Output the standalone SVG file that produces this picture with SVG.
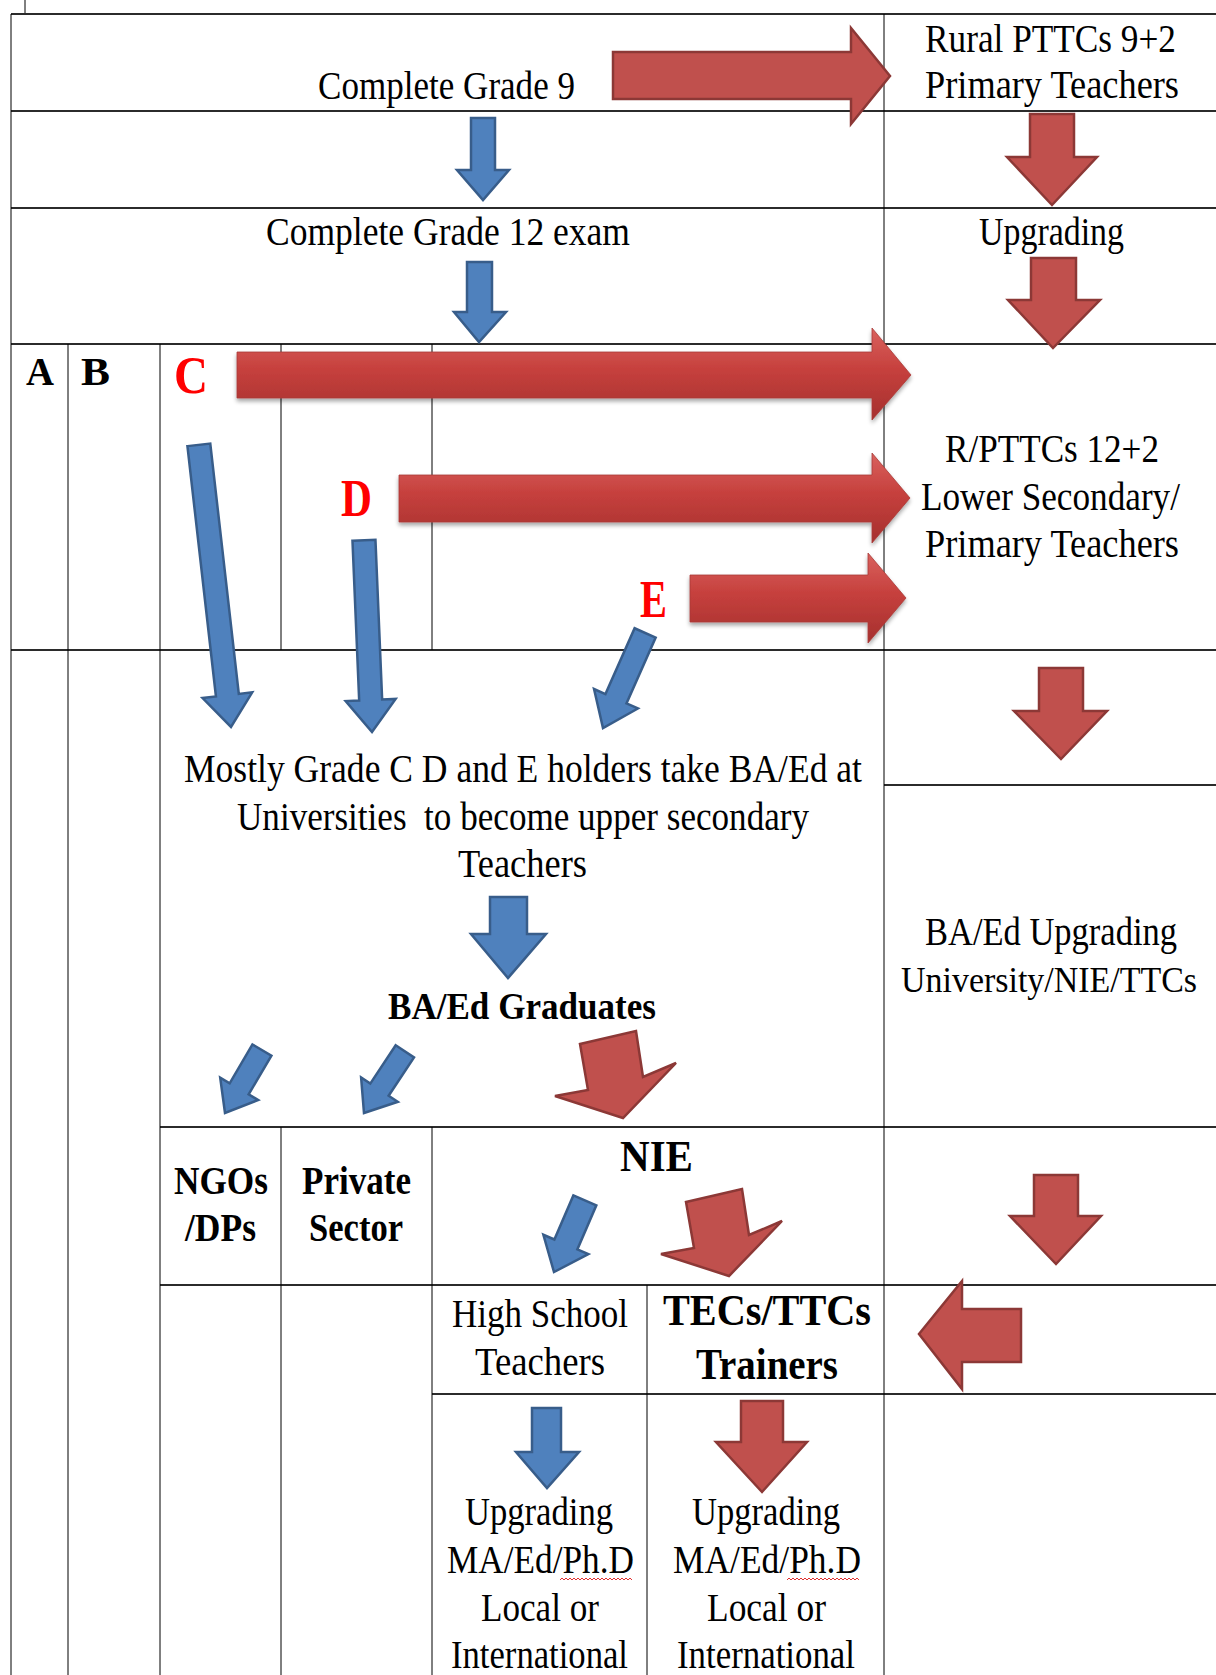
<svg xmlns="http://www.w3.org/2000/svg" width="1216" height="1675" viewBox="0 0 1216 1675">
<defs>
<style>
.h{stroke:#2b2b2b;stroke-width:2;fill:none}
.v{stroke:#000;stroke-width:1;fill:none}
text{font-family:"Liberation Serif","Times New Roman",serif;font-size:39px;fill:#000}
.b{font-weight:bold}
.ltr{font-weight:bold;fill:#ff0000;font-size:53px}
.blue{fill:#4f81bd;stroke:#385d8a;stroke-width:2.5;stroke-linejoin:miter}
.red{fill:#c0504d;stroke:#8c3836;stroke-width:2.5;stroke-linejoin:miter}
.big{fill:url(#rg);stroke:#a83a37;stroke-width:0.8}
.sq{fill:none;stroke:#e03030;stroke-width:1}
</style>
<linearGradient id="rg" x1="0" y1="0" x2="0" y2="1">
<stop offset="0" stop-color="#d9625e"/>
<stop offset="0.45" stop-color="#c6403d"/>
<stop offset="1" stop-color="#a5302e"/>
</linearGradient>
<filter id="sh" x="-5%" y="-20%" width="110%" height="150%">
<feGaussianBlur in="SourceAlpha" stdDeviation="2"/>
<feOffset dx="0" dy="3" result="o"/>
<feComponentTransfer><feFuncA type="linear" slope="0.35"/></feComponentTransfer>
<feMerge><feMergeNode/><feMergeNode in="SourceGraphic"/></feMerge>
</filter>
</defs>
<rect width="1216" height="1675" fill="#fff"/>
<g id="grid">
<line class="v" x1="25" y1="0" x2="25" y2="14"/>
<line class="h" x1="11" y1="14" x2="1216" y2="14"/>
<line class="h" x1="11" y1="111" x2="1216" y2="111"/>
<line class="h" x1="11" y1="208" x2="1216" y2="208"/>
<line class="h" x1="11" y1="344" x2="1216" y2="344"/>
<line class="h" x1="11" y1="650" x2="1216" y2="650"/>
<line class="h" x1="884" y1="785" x2="1216" y2="785"/>
<line class="h" x1="160" y1="1127" x2="1216" y2="1127"/>
<line class="h" x1="160" y1="1285" x2="1216" y2="1285"/>
<line class="h" x1="432" y1="1394" x2="1216" y2="1394"/>
<line class="v" x1="11" y1="14" x2="11" y2="1675"/>
<line class="v" x1="884" y1="14" x2="884" y2="1675"/>
<line class="v" x1="68" y1="344" x2="68" y2="1675"/>
<line class="v" x1="160" y1="344" x2="160" y2="1675"/>
<line class="v" x1="281" y1="344" x2="281" y2="650"/>
<line class="v" x1="432" y1="344" x2="432" y2="650"/>
<line class="v" x1="281" y1="1127" x2="281" y2="1675"/>
<line class="v" x1="432" y1="1127" x2="432" y2="1675"/>
<line class="v" x1="647" y1="1285" x2="647" y2="1675"/>
</g>
<g id="connectors">
<polygon class="red" points="613,52 851,52 851,28 890,76 851,124 851,99 613,99"/>
<polygon class="blue" points="471,118 495,118 495,170 509,170 483,200 457,170 471,170"/>
<polygon class="blue" points="467,262 492,262 492,312 506,312 479,342 454,312 467,312"/>
<polygon class="red" points="1030,114 1074,114 1074,157 1097,157 1052,205 1007,157 1030,157"/>
<polygon class="red" points="1031,258 1076,258 1076,300 1100,300 1053,348 1008,300 1031,300"/>
<polygon class="big" filter="url(#sh)" points="237,352 872,352 872,328 911,375 872,420 872,398 237,398"/>
<polygon class="big" filter="url(#sh)" points="399,475 872,475 872,453 910,498 872,543 872,522 399,522"/>
<polygon class="big" filter="url(#sh)" points="690,575 868,575 868,553 906,598 868,643 868,622 690,622"/>
<polygon class="blue" transform="translate(231,727) rotate(-6.5)" points="-11.5,-284 11.5,-284 11.5,-32 25,-32 0,0 -25,-32 -11.5,-32"/>
<polygon class="blue" transform="translate(372,732) rotate(-2.4)" points="-11.5,-192 11.5,-192 11.5,-32 25,-32 0,0 -25,-32 -11.5,-32"/>
<polygon class="blue" transform="translate(603,728) rotate(23.9)" points="-11.5,-104 11.5,-104 11.5,-32 24,-32 0,0 -24,-32 -11.5,-32"/>
<polygon class="red" points="1039,668 1083,668 1083,711 1107,711 1061,759 1014,711 1039,711"/>
<polygon class="blue" points="490,897 527,897 527,934 546,934 508,978 471,934 490,934"/>
<polygon class="blue" transform="translate(225,1113) rotate(30.4)" points="-11,-73 11,-73 11,-28 22,-28 0,0 -22,-28 -11,-28"/>
<polygon class="blue" transform="translate(364,1113) rotate(33.5)" points="-11,-74 11,-74 11,-28 22,-28 0,0 -22,-28 -11,-28"/>
<polygon class="red" points="580,1044 636,1031 643,1077 676,1063 623,1118 555,1096 588,1090"/>
<polygon class="red" points="686,1202 742,1189 749,1235 782,1221 729,1276 661,1254 694,1248"/>
<polygon class="blue" transform="translate(554,1272) rotate(23.3)" points="-12.5,-78 12.5,-78 12.5,-30 24.5,-30 0,0 -24.5,-30 -12.5,-30"/>
<polygon class="red" points="1034,1175 1078,1175 1078,1216 1101,1216 1056,1264 1010,1216 1034,1216"/>
<polygon class="red" points="1021,1309 1021,1362 962,1362 962,1389 919,1334 962,1281 962,1309"/>
<polygon class="blue" points="532,1408 561,1408 561,1452 579,1452 547,1488 516,1452 532,1452"/>
<polygon class="red" points="741,1401 783,1401 783,1442 807,1442 762,1492 716,1442 741,1442"/>
</g>
<g id="n-grade9"><text x="318" y="99" textLength="257" lengthAdjust="spacingAndGlyphs">Complete Grade 9</text></g>
<g id="n-rural"><text x="925" y="52" textLength="251" lengthAdjust="spacingAndGlyphs">Rural PTTCs 9+2</text><text x="925" y="98" textLength="254" lengthAdjust="spacingAndGlyphs">Primary Teachers</text></g>
<g id="n-grade12"><text x="266" y="245" textLength="364" lengthAdjust="spacingAndGlyphs">Complete Grade 12 exam</text></g>
<g id="n-upgrading"><text x="979" y="245" textLength="145" lengthAdjust="spacingAndGlyphs">Upgrading</text></g>
<g id="n-rpttc"><text x="945" y="462" textLength="214" lengthAdjust="spacingAndGlyphs">R/PTTCs 12+2</text><text x="921" y="510" textLength="259" lengthAdjust="spacingAndGlyphs">Lower Secondary/</text><text x="925" y="557" textLength="254" lengthAdjust="spacingAndGlyphs">Primary Teachers</text></g>
<g id="n-grades"><text class="b" x="26" y="385" textLength="28" lengthAdjust="spacingAndGlyphs">A</text><text class="b" x="81" y="385" textLength="29" lengthAdjust="spacingAndGlyphs">B</text><text class="ltr" x="174" y="393" textLength="34" lengthAdjust="spacingAndGlyphs">C</text><text class="ltr" x="341" y="516" textLength="31" lengthAdjust="spacingAndGlyphs">D</text><text class="ltr" x="640" y="617" textLength="27" lengthAdjust="spacingAndGlyphs">E</text></g>
<g id="n-mostly"><text x="184" y="782" textLength="678" lengthAdjust="spacingAndGlyphs">Mostly Grade C D and E holders take BA/Ed at</text><text x="237" y="830" textLength="572" lengthAdjust="spacingAndGlyphs">Universities&#160; to become upper secondary</text><text x="458" y="877" textLength="129" lengthAdjust="spacingAndGlyphs">Teachers</text></g>
<g id="n-graduates"><text class="b" x="388" y="1019" textLength="268" lengthAdjust="spacingAndGlyphs" style="font-size:37px">BA/Ed Graduates</text></g>
<g id="n-baed-up"><text x="925" y="945" textLength="252" lengthAdjust="spacingAndGlyphs">BA/Ed Upgrading</text><text x="901" y="992" textLength="296" lengthAdjust="spacingAndGlyphs" style="font-size:35.5px">University/NIE/TTCs</text></g>
<g id="n-nie"><text class="b" x="620" y="1171" textLength="73" lengthAdjust="spacingAndGlyphs" style="font-size:45px">NIE</text></g>
<g id="n-ngos"><text class="b" x="174" y="1194" textLength="94" lengthAdjust="spacingAndGlyphs">NGOs</text><text class="b" x="185" y="1241" textLength="71" lengthAdjust="spacingAndGlyphs">/DPs</text></g>
<g id="n-private"><text class="b" x="302" y="1194" textLength="109" lengthAdjust="spacingAndGlyphs">Private</text><text class="b" x="309" y="1241" textLength="94" lengthAdjust="spacingAndGlyphs">Sector</text></g>
<g id="n-highschool"><text x="452" y="1327" textLength="176" lengthAdjust="spacingAndGlyphs" style="font-size:40px">High School</text><text x="475" y="1375" textLength="130" lengthAdjust="spacingAndGlyphs" style="font-size:40px">Teachers</text></g>
<g id="n-tecs"><text class="b" x="663" y="1325" textLength="208" lengthAdjust="spacingAndGlyphs" style="font-size:45px">TECs/TTCs</text><text class="b" x="696" y="1379" textLength="142" lengthAdjust="spacingAndGlyphs" style="font-size:45px">Trainers</text></g>
<g id="n-up-left"><text x="465" y="1525" textLength="148" lengthAdjust="spacingAndGlyphs">Upgrading</text><text x="447" y="1573" textLength="187" lengthAdjust="spacingAndGlyphs">MA/Ed/Ph.D</text><text x="481" y="1621" textLength="118" lengthAdjust="spacingAndGlyphs">Local or</text><text x="451" y="1668" textLength="177" lengthAdjust="spacingAndGlyphs">International</text><path class="sq" d="M560,1580 l2,-2 l2,2 l2,-2 l2,2 l2,-2 l2,2 l2,-2 l2,2 l2,-2 l2,2 l2,-2 l2,2 l2,-2 l2,2 l2,-2 l2,2 l2,-2 l2,2 l2,-2 l2,2 l2,-2 l2,2 l2,-2 l2,2 l2,-2 l2,2 l2,-2 l2,2 l2,-2 l2,2 l2,-2 l2,2 l2,-2 l2,2 l2,-2 l2,2"/></g>
<g id="n-up-right"><text x="692" y="1525" textLength="148" lengthAdjust="spacingAndGlyphs">Upgrading</text><text x="673" y="1573" textLength="188" lengthAdjust="spacingAndGlyphs">MA/Ed/Ph.D</text><text x="707" y="1621" textLength="119" lengthAdjust="spacingAndGlyphs">Local or</text><text x="677" y="1668" textLength="178" lengthAdjust="spacingAndGlyphs">International</text><path class="sq" d="M787,1580 l2,-2 l2,2 l2,-2 l2,2 l2,-2 l2,2 l2,-2 l2,2 l2,-2 l2,2 l2,-2 l2,2 l2,-2 l2,2 l2,-2 l2,2 l2,-2 l2,2 l2,-2 l2,2 l2,-2 l2,2 l2,-2 l2,2 l2,-2 l2,2 l2,-2 l2,2 l2,-2 l2,2 l2,-2 l2,2 l2,-2 l2,2 l2,-2 l2,2"/></g>
</svg>
